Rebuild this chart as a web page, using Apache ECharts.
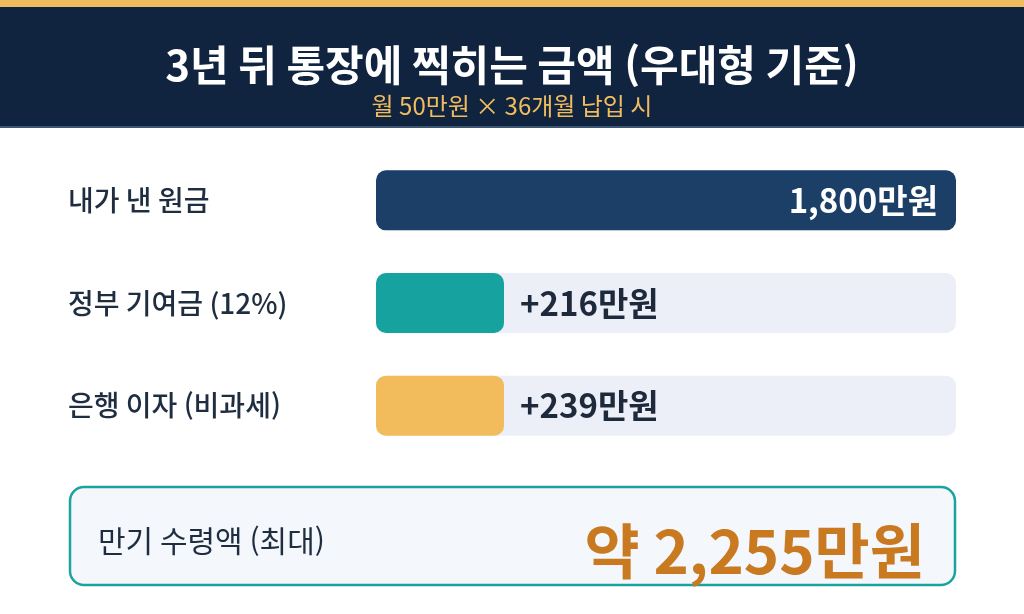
<!DOCTYPE html>
<html lang="ko">
<head>
    <meta charset="UTF-8">
    <script src="https://cdn.jsdelivr.net/npm/echarts@6/dist/echarts.min.js"></script>
    <title>3년 뒤 통장에 찍히는 금액</title>
</head>
<body>
    <style>
        html, body, #main {
            margin: 0;
            width: 1024px;
            height: 614px;
            background: #fff;
        }
    </style>
    <div id="main"></div>
    <script>
        var FONT = '"Noto Sans CJK KR", "Noto Sans", sans-serif';

        // 항목 / 금액 (만원)
        var categories = ['내가 낸 원금', '정부 기여금 (12%)', '은행 이자 (비과세)'];
        var amounts = [1800, 216, 239];
        var prefixes = ['', '+', '+'];
        var barColors = ['#1b3f66', '#16a29f', '#f2bc5c'];

        var principal = amounts[0];
        var total = amounts.reduce(function (a, b) { return a + b; }, 0);

        function fmt(v) {
            return v.toLocaleString('en-US') + '만원';
        }

        var chart = echarts.init(document.getElementById('main'));
        chart.setOption({
            backgroundColor: '#fff',
            animation: false,
            title: {
                text: '3년 뒤 통장에 찍히는 금액 (우대형 기준)',
                subtext: '월 50만원 × 36개월 납입 시',
                left: 'center',
                top: 39,
                itemGap: 8,
                textStyle: { color: '#fff', fontSize: 42, fontWeight: 'bold', fontFamily: FONT },
                subtextStyle: { color: '#f0bc5e', fontSize: 24, fontFamily: FONT }
            },
            graphic: [
                { type: 'rect', z: -10, shape: { x: 0, y: 0, width: 1024, height: 7 }, style: { fill: '#f0bc5e' } },
                { type: 'rect', z: -10, shape: { x: 0, y: 7, width: 1024, height: 120 }, style: { fill: '#10243f' } },
                { type: 'rect', z: -10, shape: { x: 0, y: 126, width: 1024, height: 2 }, style: { fill: '#3b5573' } },
                {
                    type: 'rect',
                    shape: { x: 70, y: 487, width: 885, height: 98, r: 14 },
                    style: { fill: '#f4f7fc', stroke: '#1ba39f', lineWidth: 2.5 }
                },
                {
                    type: 'text',
                    style: {
                        x: 98, y: 541, text: '만기 수령액 (최대)',
                        fill: '#1f2d40', fontSize: 30, fontFamily: FONT,
                        verticalAlign: 'middle'
                    }
                },
                {
                    type: 'text',
                    style: {
                        x: 925, y: 551, text: '약 ' + fmt(total),
                        fill: '#c97a20', fontSize: 60, fontWeight: 'bold', fontFamily: FONT,
                        align: 'right', verticalAlign: 'middle'
                    }
                }
            ],
            grid: { left: 376, right: 68, top: 149, height: 308 },
            xAxis: {
                type: 'value', min: 0, max: principal, show: false
            },
            yAxis: {
                type: 'category',
                data: categories,
                inverse: true,
                axisLine: { show: false },
                axisTick: { show: false },
                axisLabel: {
                    align: 'left',
                    margin: 308,
                    color: '#1f2d40',
                    fontSize: 28,
                    fontWeight: 500,
                    fontFamily: FONT
                }
            },
            series: [
                {
                    type: 'bar',
                    silent: true,
                    barWidth: 60,
                    barGap: '-100%',
                    data: categories.map(function () { return principal; }),
                    itemStyle: { color: '#eceff7', borderRadius: 10 }
                },
                {
                    type: 'bar',
                    barWidth: 60,
                    barMinHeight: 128,
                    data: amounts.map(function (v, i) {
                        return {
                            value: v,
                            itemStyle: { color: barColors[i] },
                            label: i === 0
                                ? { position: 'insideRight', distance: 18, color: '#fff' }
                                : { position: 'right', distance: 16, color: '#1e2a3c' }
                        };
                    }),
                    itemStyle: { borderRadius: 10 },
                    label: {
                        show: true,
                        fontSize: 33,
                        fontWeight: 'bold',
                        fontFamily: FONT,
                        formatter: function (p) {
                            return prefixes[p.dataIndex] + fmt(p.value);
                        }
                    }
                }
            ]
        });
    </script>
</body>
</html>
